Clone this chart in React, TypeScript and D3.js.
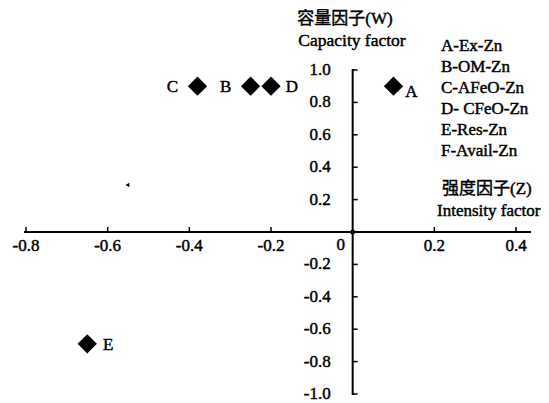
import React from 'react';
import * as d3 from 'd3';

const width = 549;
const height = 403;

// points: zinc fractions on the intensity (Z) / capacity (W) plane
const pointLabels = ['A', 'B', 'C', 'D', 'E', 'F'];
const intensity = [0.1, -0.25, -0.38, -0.2, -0.65, -0.55];
const capacity = [0.9, 0.9, 0.9, 0.9, -0.69, 0.29];
const labelSide = ['below-right', 'left', 'left', 'right', 'right', 'none'];

const legendItems = ['A-Ex-Zn', 'B-OM-Zn', 'C-AFeO-Zn', 'D- CFeO-Zn', 'E-Res-Zn', 'F-Avail-Zn'];

const xTicks = [-0.8, -0.6, -0.4, -0.2, 0.2, 0.4];
const yTicks = [1.0, 0.8, 0.6, 0.4, 0.2, -0.2, -0.4, -0.6, -0.8, -1.0];

const serif = '"Liberation Serif", "Times New Roman", serif';
const cjk = '"Noto Sans CJK SC", sans-serif';

export default function App() {
  const x = d3.scaleLinear().domain([-0.8, 0.4]).range([26, 516]);
  const y = d3.scaleLinear().domain([-1, 1]).range([394, 70]);

  const x0 = x(0);
  const y0 = y(0);
  const diamond = d3.symbol(d3.symbolSquare, 185)();
  const tiny = d3.symbol(d3.symbolTriangle, 8)();

  const fmt = (v: number) => v.toFixed(1);
  const ink = { stroke: 'black', strokeWidth: 0.45 };

  return (
    <svg width={width} height={height} style={{ position: 'absolute', left: 0, top: 0 }}>
      <rect width={width} height={height} fill="white" />

      {/* x axis */}
      <line x1={24} x2={531} y1={y0} y2={y0} stroke="black" strokeWidth={2} />
      {xTicks.map(t => (
        <g key={'x' + t}>
          <line x1={x(t)} x2={x(t)} y1={y0} y2={y0 - 5} stroke="black" strokeWidth={1.5} />
          <text x={x(t)} y={y0 + 19} textAnchor="middle" fontFamily={serif} fontSize={17} {...ink}>
            {fmt(t)}
          </text>
        </g>
      ))}
      <text x={x0 - 12} y={y0 + 18} textAnchor="middle" fontFamily={serif} fontSize={17} {...ink}>0</text>

      {/* y axis */}
      <line x1={x0} x2={x0} y1={y(1) - 1} y2={y(-1) + 1} stroke="black" strokeWidth={2} />
      {yTicks.map(t => (
        <g key={'y' + t}>
          <line x1={x0} x2={x0 + 5} y1={y(t)} y2={y(t)} stroke="black" strokeWidth={1.5} />
          <text x={x0 - 22} y={y(t) + 5} textAnchor="end" fontFamily={serif} fontSize={17} {...ink}>
            {fmt(t)}
          </text>
        </g>
      ))}
      <circle cx={x0} cy={y0} r={2.5} fill="black" />

      {/* points */}
      {pointLabels.map((lab, i) => {
        const px = x(intensity[i]);
        const py = y(capacity[i]);
        const side = labelSide[i];
        if (side === 'none') {
          return <path key={lab} d={tiny} transform={`translate(${px},${py}) rotate(-90)`} fill="black" />;
        }
        let lx = px + 21, ly = py + 6;
        if (side === 'left') { lx = px - 25; }
        if (side === 'below-right') { lx = px + 18; ly = py + 11; }
        return (
          <g key={lab}>
            <path d={diamond} transform={`translate(${px},${py}) rotate(45)`} fill="black" />
            <text x={lx} y={ly} textAnchor="middle" fontFamily={serif} fontSize={17} {...ink}>{lab}</text>
          </g>
        );
      })}

      {/* axis titles */}
      <text x={345} y={24} textAnchor="middle" fontFamily={cjk} fontSize={17} {...ink}>
        容量因子<tspan fontFamily={serif}>(W)</tspan>
      </text>
      <text x={352} y={46} textAnchor="middle" fontFamily={serif} fontSize={17.5} {...ink}>Capacity factor</text>

      <text x={442} y={194} fontFamily={cjk} fontSize={17} {...ink}>
        强度因子<tspan fontFamily={serif}>(Z)</tspan>
      </text>
      <text x={437} y={216} fontFamily={serif} fontSize={17} {...ink}>Intensity factor</text>

      {/* legend */}
      {legendItems.map((s, i) => (
        <text key={s} x={441} y={51 + i * 21} fontFamily={serif} fontSize={17} {...ink}>{s}</text>
      ))}
    </svg>
  );
}
